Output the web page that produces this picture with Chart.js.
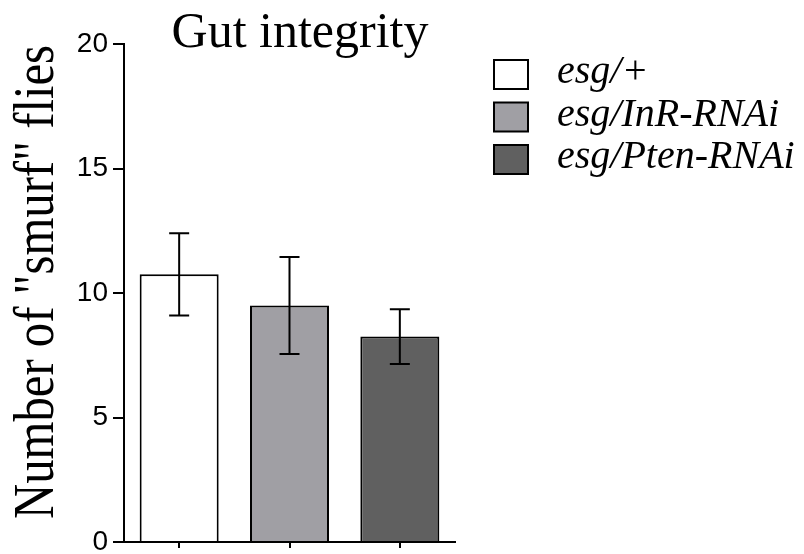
<!DOCTYPE html>
<html>
<head>
<meta charset="utf-8">
<script src="https://cdn.jsdelivr.net/npm/chart.js@4.4.0/dist/chart.umd.min.js"></script>
<style>
body { margin: 0; background: #fff; }
#wrap { width: 804px; height: 554px; }
</style>
</head>
<body>
<div id="wrap"><canvas id="gutChart" width="804" height="554"></canvas></div>
<script>
const genotypes = ['esg/+', 'esg/InR-RNAi', 'esg/Pten-RNAi'];
const smurfMeans = [10.75, 9.5, 8.25];
const smurfErrors = [1.65, 1.95, 1.1];
const yTicks = [0, 5, 10, 15, 20];
const barColors = ['#ffffff', '#a09fa4', '#606060'];

// error bars drawn on top of the bars
const errorBarPlugin = {
    id: 'errorBars',
    afterDatasetsDraw(chart) {
        const ctx = chart.ctx;
        const yScale = chart.scales.y;
        const meta = chart.getDatasetMeta(0);
        ctx.save();
        ctx.strokeStyle = '#000';
        ctx.lineWidth = 2;
        meta.data.forEach((bar, i) => {
            const top = yScale.getPixelForValue(smurfMeans[i] + smurfErrors[i]);
            const bottom = yScale.getPixelForValue(smurfMeans[i] - smurfErrors[i]);
            ctx.beginPath();
            ctx.moveTo(bar.x, top);
            ctx.lineTo(bar.x, bottom);
            ctx.moveTo(bar.x - 10, top);
            ctx.lineTo(bar.x + 10, top);
            ctx.moveTo(bar.x - 10, bottom);
            ctx.lineTo(bar.x + 10, bottom);
            ctx.stroke();
        });
        ctx.restore();
    }
};

// title, y axis label and legend
const textPlugin = {
    id: 'texts',
    afterDraw(chart) {
        const ctx = chart.ctx;
        ctx.save();
        ctx.fillStyle = '#000';

        ctx.font = '50px "Liberation Serif", "Times New Roman", serif';
        ctx.textAlign = 'center';
        ctx.textBaseline = 'alphabetic';
        ctx.fillText('Gut integrity', 300, 47);

        ctx.save();
        ctx.translate(53, 282);
        ctx.rotate(-Math.PI / 2);
        ctx.scale(0.87, 1);
        ctx.font = '56px "Liberation Serif", "Times New Roman", serif';
        ctx.fillText('Number of "smurf" flies', 0, 0);
        ctx.restore();

        ctx.textAlign = 'left';
        ctx.font = 'italic 40px "Liberation Serif", "Times New Roman", serif';
        ctx.lineWidth = 2;
        ctx.strokeStyle = '#000';
        genotypes.forEach((name, i) => {
            const top = 60 + i * 42.5;
            ctx.fillStyle = barColors[i];
            ctx.fillRect(494, top, 34, 29);
            ctx.strokeRect(494, top, 34, 29);
            ctx.fillStyle = '#000';
            ctx.fillText(name, 557, top + 23);
        });
        ctx.restore();
    }
};

const ctx = document.getElementById('gutChart').getContext('2d');
const gutChart = new Chart(ctx, {
    type: 'bar',
    data: {
        labels: genotypes,
        datasets: [{
            data: smurfMeans,
            backgroundColor: barColors,
            borderColor: '#000',
            borderWidth: 2,
            categoryPercentage: 1,
            barPercentage: 0.716
        }]
    },
    options: {
        responsive: false,
        animation: false,
        layout: { padding: { left: 77, right: 349, top: 44, bottom: 3 } },
        plugins: {
            legend: { display: false },
            tooltip: { enabled: false }
        },
        scales: {
            x: {
                offset: true,
                grid: { offset: false, drawOnChartArea: false, color: '#000', tickLength: 6, lineWidth: 2 },
                border: { color: '#000', width: 2 },
                ticks: { display: false }
            },
            y: {
                min: 0,
                max: 20,
                afterBuildTicks(scale) {
                    scale.ticks = yTicks.map(v => ({ value: v }));
                },
                afterFit(scale) {
                    scale.width = 47;
                },
                grid: { drawOnChartArea: false, color: '#000', tickLength: 11, lineWidth: 2 },
                border: { color: '#000', width: 2 },
                ticks: {
                    padding: 5,
                    color: '#000',
                    font: { family: '"Liberation Sans", Arial, sans-serif', size: 28, lineHeight: 0.5 }
                }
            }
        }
    },
    plugins: [errorBarPlugin, textPlugin]
});
</script>
</body>
</html>
